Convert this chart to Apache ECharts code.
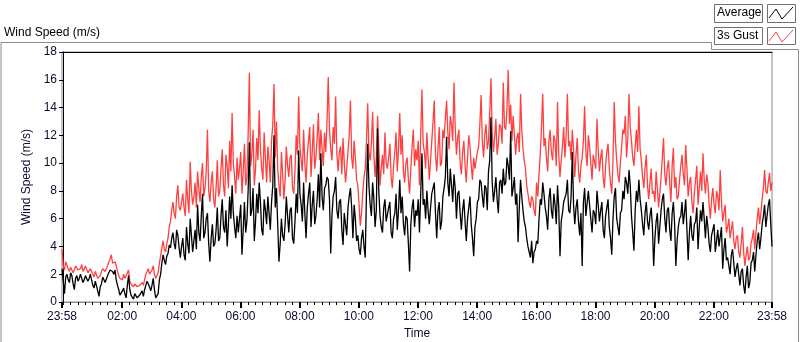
<!DOCTYPE html>
<html>
<head>
<meta charset="utf-8">
<script src="https://cdn.jsdelivr.net/npm/echarts@6/dist/echarts.min.js"></script>
<style>
  html, body { margin: 0; padding: 0; background: #fff; }
  #chart { width: 800px; height: 342px; }
</style>
</head>
<body>
<div id="chart"></div>
<script>
// one reading every 2.5 minutes, starting 23:58; one row per hour
const stepMinutes = 2.5;
const startMinute = -2;

const gust = [
  3.8, 2.6, 2.3, 2.9, 2.8, 2.4, 2.2, 2.5, 2.6, 2.1, 2.3, 2.6, 2.5, 2.3, 2.2, 2.4, 2.7, 2.2, 2.4, 2.6, 2.5, 2.1, 2.2, 2.4,
  2.3, 2.0, 1.8, 2.2, 2.1, 1.7, 1.6, 1.9, 2.2, 2.4, 2.5, 2.2, 2.3, 2.6, 2.9, 3.1, 3.4, 2.8, 2.7, 2.9, 2.6, 2.2, 1.9, 1.7,
  1.8, 1.6, 2.0, 1.7, 1.6, 2.1, 2.3, 1.5, 1.3, 1.2, 1.1, 1.3, 1.4, 1.1, 1.0, 1.2, 1.3, 1.4, 1.2, 1.6, 2.0, 2.2, 2.4, 2.0,
  1.9, 2.3, 2.6, 2.0, 1.7, 1.8, 2.1, 2.8, 3.3, 3.9, 4.4, 3.8, 3.6, 4.2, 4.6, 5.4, 5.8, 6.6, 7.2, 6.4, 6.0, 7.6, 8.4, 6.8,
  6.6, 7.2, 7.8, 6.8, 6.2, 8.8, 7.4, 6.4, 10.1, 8.0, 7.0, 7.6, 8.6, 6.8, 9.4, 8.2, 7.2, 9.0, 10.0, 7.6, 8.2, 9.4, 12.4, 8.0,
  7.2, 8.6, 9.4, 7.4, 6.8, 8.2, 10.2, 7.6, 8.0, 9.6, 11.0, 8.4, 7.6, 10.6, 9.8, 8.2, 11.6, 9.4, 13.6, 10.0, 9.0, 7.8, 10.4, 8.8,
  9.6, 10.8, 7.8, 9.4, 11.4, 8.4, 9.0, 12.0, 16.5, 9.8, 10.6, 12.4, 8.4, 9.6, 11.8, 10.2, 13.8, 11.0, 9.6, 8.8, 12.2, 10.4, 8.6, 11.2,
  10.2, 8.6, 11.6, 12.8, 15.7, 10.4, 13.0, 9.6, 8.4, 7.6, 10.8, 9.2, 7.4, 8.8, 11.2, 9.8, 9.0, 10.4, 10.6, 8.2, 7.8, 9.4, 12.0, 10.6,
  14.8, 11.2, 10.2, 9.4, 12.4, 10.0, 8.6, 10.6, 11.6, 12.6, 9.0, 10.8, 12.8, 9.6, 10.4, 11.8, 13.6, 10.2, 12.4, 11.0, 9.8, 12.2, 10.8, 13.0,
  16.2, 12.4, 11.0, 10.2, 12.6, 11.4, 14.8, 10.6, 9.4, 10.8, 11.2, 9.2, 11.8, 10.0, 8.6, 9.6, 10.8, 12.0, 14.5, 10.4, 9.6, 11.6, 10.4, 8.8,
  8.4, 7.0, 5.5, 6.4, 7.8, 9.0, 9.6, 11.6, 14.3, 10.8, 10.2, 11.4, 13.7, 10.6, 9.0, 10.4, 13.4, 11.2, 8.4, 9.6, 10.6, 9.2, 12.2, 10.0,
  9.6, 10.4, 11.4, 9.0, 8.2, 9.8, 10.8, 12.2, 9.4, 11.0, 13.6, 10.6, 12.0, 9.4, 8.6, 10.0, 10.4, 8.8, 7.8, 9.6, 11.2, 12.4, 9.8, 11.0,
  10.2, 11.6, 8.4, 12.0, 15.3, 11.4, 10.8, 9.6, 12.2, 10.4, 8.8, 10.2, 11.6, 13.0, 14.5, 10.6, 9.4, 11.0, 12.6, 9.8, 10.0, 12.4, 11.8, 13.2,
  14.5, 12.2, 11.0, 13.4, 12.8, 11.6, 15.8, 12.6, 10.6, 11.8, 12.4, 10.0, 9.2, 10.8, 11.6, 9.8, 8.6, 10.4, 12.0, 11.2, 9.8, 8.8, 10.4, 9.6,
  9.6, 10.8, 11.2, 12.8, 14.9, 11.6, 10.4, 12.0, 12.8, 11.0, 11.6, 13.6, 16.1, 12.2, 10.8, 11.8, 13.2, 10.6, 11.4, 12.8, 12.6, 11.4, 15.8, 12.6,
  12.4, 14.0, 16.7, 12.8, 14.2, 11.6, 13.4, 12.0, 10.6, 11.8, 12.2, 10.8, 15.0, 12.4, 11.0, 10.2, 9.6, 8.4, 7.8, 7.2, 6.8, 7.6, 7.4, 6.6,
  6.2, 8.6, 7.6, 9.2, 10.6, 12.6, 15.0, 11.2, 11.8, 10.4, 9.4, 11.6, 12.4, 10.8, 10.2, 12.0, 11.6, 9.8, 14.4, 10.6, 9.0, 10.2, 11.2, 12.6,
  10.4, 12.0, 15.0, 11.2, 11.6, 10.2, 12.4, 11.0, 9.0, 10.6, 11.8, 9.4, 8.6, 9.8, 10.4, 11.6, 14.1, 10.8, 9.8, 12.0, 11.2, 10.0, 8.8, 10.6,
  10.6, 9.6, 13.2, 11.0, 9.4, 10.4, 11.0, 9.0, 8.2, 9.8, 10.8, 11.4, 9.6, 8.6, 7.8, 10.2, 14.4, 11.6, 10.2, 9.2, 8.6, 10.0, 11.2, 12.4,
  12.1, 13.4, 10.4, 11.8, 15.0, 12.6, 11.6, 10.4, 9.8, 11.2, 12.4, 10.8, 14.1, 11.0, 10.2, 9.0, 8.2, 9.6, 10.6, 8.4, 7.4, 8.6, 9.6, 7.8,
  8.0, 7.2, 9.4, 8.2, 6.8, 7.8, 9.0, 10.4, 11.8, 9.2, 8.4, 9.6, 10.2, 8.6, 7.2, 9.8, 11.1, 8.2, 9.0, 7.4, 7.6, 8.8, 9.8, 10.6,
  9.2, 8.4, 11.3, 9.6, 7.6, 8.6, 9.0, 7.2, 6.4, 7.8, 8.8, 9.8, 7.0, 8.2, 9.4, 8.0, 10.7, 8.8, 7.8, 9.2, 8.6, 7.0, 6.0, 7.4,
  8.2, 7.0, 6.4, 8.0, 7.6, 6.6, 9.5, 7.2, 5.8, 6.4, 7.0, 5.0, 5.4, 6.0, 4.6, 5.2, 5.8, 4.4, 3.8, 4.6, 4.8, 3.6, 3.2, 4.2,
  5.4, 3.6, 2.6, 3.4, 4.0, 3.0, 3.2, 4.2, 4.6, 5.2, 3.8, 5.0, 6.0, 6.8, 5.6, 6.4, 7.4, 8.2, 9.5, 8.0, 7.8, 8.6, 9.3, 8.0,
  8.6
];

const average = [
  2.4, 1.5, 0.6, 1.8, 2.0, 1.6, 1.4, 2.1, 1.9, 1.3, 0.9, 1.7, 1.9, 1.5, 1.7, 2.0, 2.0, 1.4, 1.6, 1.9, 1.8, 1.5, 1.7, 2.0,
  1.6, 1.2, 1.0, 1.5, 1.4, 0.8, 0.4, 1.1, 1.3, 1.8, 1.7, 1.4, 1.5, 1.9, 2.1, 2.3, 2.4, 2.2, 2.0, 2.3, 1.6, 1.2, 0.9, 0.5,
  0.5, 0.8, 1.0, 0.6, 0.3, 1.2, 1.9, 0.9, 0.5, 0.4, 0.2, 0.6, 0.7, 0.3, 0.3, 0.5, 0.6, 0.8, 0.4, 0.9, 1.2, 1.5, 1.6, 1.1,
  0.8, 1.2, 1.7, 0.9, 0.3, 0.2, 0.6, 1.6, 2.0, 2.8, 3.4, 3.0, 2.7, 3.3, 3.5, 4.1, 3.9, 4.6, 5.0, 4.2, 3.8, 5.2, 4.8, 3.9,
  3.2, 4.0, 4.6, 3.4, 3.0, 5.4, 4.2, 3.5, 6.0, 4.8, 3.6, 4.4, 5.2, 3.8, 7.0, 5.0, 4.4, 6.2, 7.8, 4.6, 5.0, 6.0, 6.4, 4.2,
  2.9, 4.6, 5.6, 4.0, 4.2, 5.2, 6.8, 4.4, 4.6, 6.2, 7.4, 5.4, 5.0, 6.6, 4.0, 5.6, 7.6, 6.0, 8.4, 6.4, 5.4, 4.6, 6.2, 5.0,
  6.0, 7.0, 3.4, 5.2, 7.2, 5.0, 5.8, 8.0, 11.5, 6.2, 6.6, 8.2, 4.4, 5.8, 7.8, 6.4, 8.6, 7.2, 5.2, 4.8, 7.4, 6.6, 5.6, 7.6,
  6.4, 5.2, 7.2, 8.4, 12.0, 6.8, 8.2, 5.6, 2.9, 4.2, 6.0, 4.8, 4.4, 5.6, 7.6, 6.2, 5.0, 6.6, 6.8, 4.6, 4.2, 5.8, 7.8, 6.4,
  10.9, 7.8, 7.0, 5.8, 8.6, 6.4, 4.6, 6.8, 7.8, 8.6, 5.4, 7.0, 8.0, 5.6, 6.2, 7.4, 9.2, 6.8, 10.7, 7.6, 6.6, 8.2, 8.4, 9.0,
  8.8, 7.4, 3.5, 6.2, 7.6, 8.0, 9.0, 6.6, 6.0, 7.2, 7.4, 5.2, 4.1, 6.4, 5.6, 4.8, 6.8, 7.6, 8.2, 6.8, 4.6, 7.0, 6.0, 4.4,
  4.8, 3.8, 3.4, 4.6, 5.2, 4.0, 3.2, 7.8, 11.4, 8.4, 7.0, 6.2, 8.6, 7.4, 5.4, 6.6, 12.5, 8.0, 6.2, 5.4, 5.0, 6.8, 7.4, 5.8,
  5.8, 6.8, 7.2, 5.0, 4.6, 6.0, 6.4, 7.8, 5.2, 6.6, 8.8, 6.4, 7.6, 5.6, 4.8, 6.2, 6.0, 4.2, 2.2, 5.6, 6.8, 7.4, 5.4, 6.6,
  6.2, 7.4, 5.0, 7.8, 10.7, 7.0, 7.4, 6.0, 8.0, 6.6, 5.6, 6.8, 7.8, 8.2, 8.6, 6.4, 4.6, 6.6, 7.2, 5.2, 5.8, 7.6, 8.2, 9.0,
  11.9, 8.6, 7.6, 9.6, 8.4, 7.2, 9.2, 8.2, 6.0, 7.8, 8.0, 6.4, 5.2, 6.6, 7.4, 5.8, 4.4, 6.0, 6.8, 7.6, 5.6, 4.6, 3.3, 5.4,
  6.0, 7.2, 7.4, 8.8, 8.6, 7.6, 6.8, 8.4, 8.2, 6.6, 9.4, 10.2, 13.3, 8.6, 7.2, 8.0, 9.0, 7.4, 6.4, 8.6, 8.8, 7.8, 9.6, 8.4,
  8.6, 10.4, 9.8, 8.8, 12.3, 7.6, 8.2, 9.0, 7.0, 7.8, 4.3, 6.8, 8.8, 7.6, 6.6, 5.8, 5.4, 4.6, 4.0, 3.6, 3.2, 4.4, 2.8, 3.6,
  3.8, 4.4, 4.2, 6.0, 7.4, 7.0, 8.6, 7.8, 6.8, 6.2, 5.2, 7.4, 8.2, 6.6, 6.0, 7.8, 7.0, 5.6, 8.4, 6.8, 3.3, 5.8, 6.4, 7.2,
  7.2, 7.8, 8.8, 6.6, 6.4, 7.6, 10.8, 7.0, 5.6, 6.8, 7.4, 5.8, 4.8, 6.4, 2.6, 7.2, 8.2, 6.2, 6.2, 8.0, 7.0, 6.0, 5.0, 6.6,
  6.4, 5.6, 8.0, 7.0, 5.8, 6.6, 7.2, 5.2, 4.6, 6.2, 6.8, 7.4, 5.4, 4.6, 3.4, 6.0, 7.6, 8.2, 6.0, 5.4, 4.8, 6.4, 6.6, 8.0,
  7.4, 9.0, 8.6, 7.8, 9.5, 8.4, 6.2, 5.0, 3.7, 6.6, 8.0, 7.2, 8.8, 7.4, 6.6, 5.6, 4.8, 6.4, 7.2, 5.8, 5.2, 6.2, 6.8, 5.4,
  2.6, 4.6, 5.8, 6.4, 4.2, 5.4, 6.6, 7.4, 7.8, 6.0, 5.0, 6.6, 6.8, 5.2, 4.4, 6.4, 7.2, 5.6, 2.6, 4.4, 5.4, 6.0, 6.2, 7.2,
  5.6, 6.4, 7.4, 5.2, 3.0, 5.0, 6.2, 4.8, 4.4, 5.6, 5.8, 6.8, 3.8, 5.4, 6.6, 5.8, 7.2, 6.0, 4.6, 6.2, 5.4, 4.2, 3.6, 4.8,
  4.8, 5.6, 3.6, 4.4, 5.2, 4.0, 4.0, 5.4, 2.4, 3.8, 4.6, 3.0, 3.2, 2.6, 2.0, 3.4, 3.8, 2.8, 1.8, 2.4, 2.8, 2.0, 1.2, 2.2,
  2.4, 1.2, 0.6, 1.8, 2.6, 1.0, 1.4, 2.8, 3.0, 3.6, 2.2, 3.4, 4.4, 5.0, 3.8, 4.6, 5.6, 6.2, 7.0, 5.4, 6.2, 7.0, 7.4, 5.6,
  4.0
];

// x tick labels (minutes from midnight)
const labelMinutes = [-2, 120, 240, 360, 480, 600, 720, 840, 960, 1080, 1200, 1320, 1438];
const timeLabels = ['23:58', '02:00', '04:00', '06:00', '08:00', '10:00', '12:00',
  '14:00', '16:00', '18:00', '20:00', '22:00', '23:58'];

const minorTicks = [];
for (let m = 0; m <= 1438; m += 15) minorTicks.push(m);

function toPoints(values) {
  return values.map((v, i) => [startMinute + i * stepMinutes, v]);
}

const textColor = '#0c0c30';
const font = 'Liberation Sans';

let chart = echarts.init(document.getElementById('chart'), null, { renderer: 'canvas' });

const legendIcon = (y, color) => ({
  type: 'polyline',
  shape: { points: [[769, y + 13], [776, y + 4], [782, y + 14], [793, y + 2]] },
  style: { stroke: color, lineWidth: 1, fill: null }
});

chart.setOption({
  animation: false,
  grid: {
    left: 62, right: 28, top: 52, bottom: 40,
    outerBoundsMode: 'none', containLabel: false,
    show: true, borderColor: '#8c8c8c', borderWidth: 1, backgroundColor: '#fff'
  },
  xAxis: [
    {
      type: 'value', min: -2, max: 1438,
      name: 'Time', nameLocation: 'middle', nameGap: 25,
      nameTextStyle: { color: textColor, fontFamily: font, fontSize: 12 },
      axisLine: { show: true, lineStyle: { color: '#8c8c8c' } },
      axisTick: { show: true, length: 6, customValues: labelMinutes, lineStyle: { color: '#000', width: 2 } },
      axisLabel: {
        customValues: labelMinutes, margin: 9,
        color: textColor, fontFamily: font, fontSize: 12,
        formatter: v => timeLabels[labelMinutes.indexOf(v)]
      },
      splitLine: { show: false }
    },
    {
      type: 'value', min: -2, max: 1438, position: 'bottom',
      axisLine: { show: false },
      axisTick: { show: true, length: 3, customValues: minorTicks, lineStyle: { color: '#000' } },
      axisLabel: { show: false },
      splitLine: { show: false }
    },
    {
      type: 'value', min: -2, max: 1438, position: 'top',
      axisLine: { show: true, lineStyle: { color: '#000' } },
      axisTick: { show: false }, axisLabel: { show: false },
      splitLine: { show: false }
    }
  ],
  yAxis: {
    type: 'value', min: 0, max: 18, interval: 2,
    name: 'Wind Speed (m/s)', nameLocation: 'middle', nameGap: 20,
    nameTextStyle: { color: textColor, fontFamily: font, fontSize: 12 },
    axisLine: { show: true, lineStyle: { color: '#000' } },
    axisTick: { show: true, length: 4, lineStyle: { color: '#000' } },
    axisLabel: { color: textColor, fontFamily: font, fontSize: 12, margin: 5 },
    splitLine: { show: false }
  },
  graphic: [
    { type: 'text', left: 4, top: 27, style: { text: 'Wind Speed (m/s)', fill: '#000', font: '12px "Liberation Sans"' } },
    { type: 'polyline', silent: true,
      shape: { points: [[1, 342], [1, 42.5], [711.5, 42.5], [711.5, 49.5], [798.5, 49.5], [798.5, 342]] },
      style: { stroke: '#8c8c8c', lineWidth: 1, fill: null } },
    { type: 'rect', shape: { x: 714.5, y: 4.5, width: 48, height: 18 }, style: { stroke: '#707070', fill: '#fff' } },
    { type: 'text', left: 717, top: 7, style: { text: 'Average', fill: '#000', font: '12px "Liberation Sans"' } },
    { type: 'rect', shape: { x: 767.5, y: 4.5, width: 28, height: 18 }, style: { stroke: '#707070', fill: '#fff' } },
    legendIcon(5, '#000'),
    { type: 'rect', shape: { x: 714.5, y: 27.5, width: 48, height: 17 }, style: { stroke: '#707070', fill: '#fff' } },
    { type: 'text', left: 717, top: 30, style: { text: '3s Gust', fill: '#000', font: '12px "Liberation Sans"' } },
    { type: 'rect', shape: { x: 767.5, y: 27.5, width: 28, height: 17 }, style: { stroke: '#707070', fill: '#fff' } },
    legendIcon(28, '#ff4040')
  ],
  series: [
    {
      name: '3s Gust', type: 'line', xAxisIndex: 0, showSymbol: false,
      data: toPoints(gust), lineStyle: { color: '#ff4040', width: 1.3 }, z: 2
    },
    {
      name: 'Average', type: 'line', xAxisIndex: 0, showSymbol: false,
      data: toPoints(average), lineStyle: { color: '#000', width: 1.3 }, z: 3
    }
  ]
});
</script>
</body>
</html>
